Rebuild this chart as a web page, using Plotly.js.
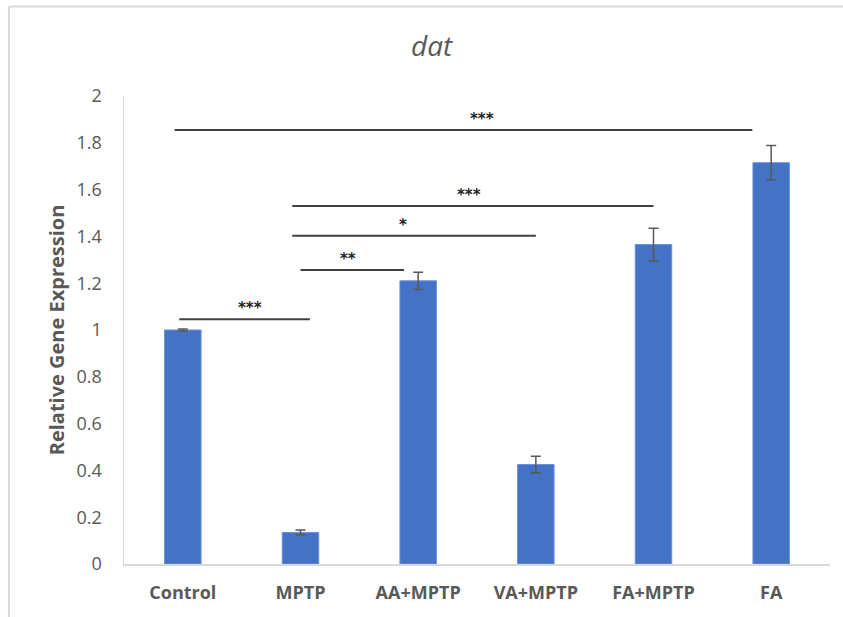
<!DOCTYPE html>
<html>
<head>
<meta charset="utf-8">
<script src="https://cdn.plot.ly/plotly-3.0.1.min.js"></script>
<style>
  html, body { margin: 0; padding: 0; background: #fff; }
  #chart { width: 843px; height: 617px; }
</style>
</head>
<body>
<div id="chart"></div>
<script>
// Relative expression of dat per treatment group
const groups = ['Control', 'MPTP', 'AA+MPTP', 'VA+MPTP', 'FA+MPTP', 'FA'];
const expression = [1.0, 0.135, 1.21, 0.425, 1.365, 1.715];
const errors = [0.004, 0.01, 0.037, 0.035, 0.07, 0.073];

// Significance brackets: [from index, to index, label]
const sigFrom = [-0.07, 0.93, 0.93, 1.0, -0.03];
const sigTo = [4.84, 4.0, 3.0, 1.88, 1.08];
const sigLevel = [1.855, 1.53, 1.403, 1.256, 1.046];
const sigLabel = ['***', '***', '*', '**', '***'];
const sigLabelX = [2.54, 2.43, 1.87, 1.4, 0.57];

const grey = '#595959';
const font = '"Open Sans", Lato, sans-serif';

const shapes = [];
const annotations = [];
for (let i = 0; i < sigLabel.length; i++) {
  shapes.push({
    type: 'line', xref: 'x', yref: 'y',
    x0: sigFrom[i], x1: sigTo[i], y0: sigLevel[i], y1: sigLevel[i],
    line: { color: '#404040', width: 2 }
  });
  annotations.push({
    xref: 'x', yref: 'y', x: sigLabelX[i], y: sigLevel[i],
    yanchor: 'bottom', yshift: 0, showarrow: false,
    text: '<b>' + sigLabel[i] + '</b>',
    font: { family: '"DejaVu Sans", sans-serif', size: 15, color: '#222' }
  });
}

// Thin frame along the top and left of the figure
shapes.push({ type: 'line', xref: 'paper', yref: 'paper', x0: -0.163, x1: -0.163, y0: -0.12, y1: 1.191,
  line: { color: '#d9d9d9', width: 2 } });
shapes.push({ type: 'line', xref: 'paper', yref: 'paper', x0: -0.163, x1: 1.03, y0: 1.191, y1: 1.191,
  line: { color: '#d9d9d9', width: 2 } });

const trace = {
  type: 'bar',
  x: groups,
  y: expression,
  width: 0.31,
  marker: { color: '#4472C4', line: { color: '#6a90d8', width: 1 } },
  error_y: { type: 'data', array: errors, visible: true, color: '#595959', thickness: 1.5, width: 5 },
  hoverinfo: 'x+y'
};

const layout = {
  width: 843, height: 617,
  margin: { l: 124, r: 13, t: 96, b: 53 },
  paper_bgcolor: '#fff', plot_bgcolor: '#fff',
  showlegend: false,
  title: {
    text: '<i>dat</i>', xref: 'container', x: 0.512, yref: 'container', y: 0.925, yanchor: 'middle',
    font: { family: font, size: 28, color: grey }
  },
  xaxis: {
    type: 'category',
    range: [-0.5, 5.5],
    showline: true, linecolor: '#d9d9d9', linewidth: 1.5,
    showgrid: false, zeroline: false, ticks: '',
    tickfont: { family: font, size: 18, color: grey, weight: 'bold' },
    ticklabelstandoff: 12
  },
  yaxis: {
    range: [0, 2],
    tickvals: [0, 0.2, 0.4, 0.6, 0.8, 1, 1.2, 1.4, 1.6, 1.8, 2],
    ticktext: ['0', '0.2', '0.4', '0.6', '0.8', '1', '1.2', '1.4', '1.6', '1.8', '2'],
    showline: true, linecolor: '#d9d9d9', linewidth: 1.5,
    showgrid: false, zeroline: false, ticks: '',
    tickfont: { family: font, size: 18, color: grey },
    ticklabelstandoff: 17,
    title: { text: '<b>Relative Gene Expression</b>', standoff: 6,
      font: { family: font, size: 20, color: grey } }
  },
  shapes: shapes,
  annotations: annotations
};

Plotly.newPlot('chart', [trace], layout, { displayModeBar: false, staticPlot: true });
</script>
</body>
</html>
